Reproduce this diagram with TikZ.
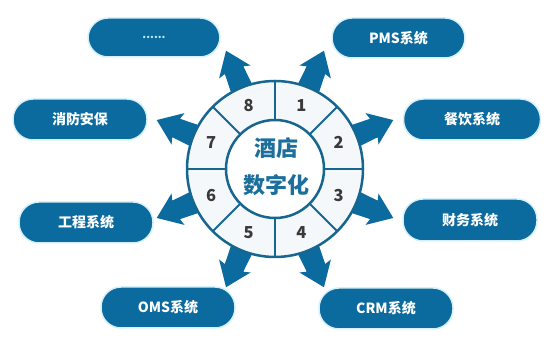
\documentclass[tikz,border=0pt]{standalone}
\usepackage{fontspec}
\newfontfamily\cjk{Noto Sans CJK SC}
\definecolor{boxblue}{HTML}{0B6A9E}
\definecolor{ringblue}{HTML}{16668F}
\definecolor{fillw}{HTML}{F5F8FA}
\definecolor{txtblue}{HTML}{1C6F9C}
\definecolor{numgray}{HTML}{3A3A3A}
\definecolor{glow}{HTML}{D6F0FA}
\definecolor{dotcol}{HTML}{BFEFFF}
\begin{document}
\begin{tikzpicture}[x=1pt,y=1pt,
  sysbox/.style={rectangle, rounded corners=20pt, minimum width=134pt, minimum height=41pt,
    fill=boxblue, draw=glow, line width=1.5pt, text=white, inner sep=0pt,
    font=\cjk\bfseries\fontsize{14}{14}\selectfont},
  ringline/.style={draw=ringblue, line width=2.5pt},
  divline/.style={draw=ringblue, line width=2pt},
  numtxt/.style={text=numgray, font=\cjk\bfseries\fontsize{16.5}{16.5}\selectfont},
  centxt/.style={text=txtblue, font=\cjk\bfseries\fontsize{22}{22}\selectfont},
  arrowshape/.style={fill=boxblue}]
\useasboundingbox (0,0) rectangle (552,347);
\fill[white] (0,0) rectangle (552,347);
\coordinate (c) at (275,178);
% boxes
\node[sysbox, minimum width=132pt, minimum height=39pt] (bdots) at (154,309.5) {\textcolor{dotcol}{\fontsize{11}{11}\selectfont......}};
\node[sysbox, minimum width=133pt, minimum height=40pt] (bpms) at (398.5,309) {PMS系统};
\node[sysbox] (bxf) at (80,227.5) {消防安保};
\node[sysbox, minimum width=137pt] (bcy) at (472,227.5) {餐饮系统};
\node[sysbox] (bgc) at (86,124.5) {工程系统};
\node[sysbox, minimum height=42pt] (bcw) at (470,127) {财务系统};
\node[sysbox] (boms) at (168,39.5) {OMS系统};
\node[sysbox] (bcrm) at (386,38.5) {CRM系统};
% arrows
\foreach \a in {22.5,67.5,...,337.5} {
  \begin{scope}[shift={(c)}, rotate=\a]
    \path[arrowshape] (78,-12) -- (107,-10) -- (105,-17) -- (128,0) -- (105,17) -- (107,10) -- (78,12) -- cycle;
  \end{scope}
}
% wheel
\path[ringline, fill=fillw] (c) circle (88);
\foreach \a in {0,45,...,315} {
  \path[divline] ([shift={(\a:49)}]c) -- ([shift={(\a:88)}]c);
}
\path[ringline, fill=white] (c) circle (49);
% numbers
\foreach \n/\a in {1/67.5,2/22.5,3/-22.5,4/-67.5,5/-112.5,6/-157.5,7/157.5,8/112.5} {
  \node[numtxt] (n\n) at ([shift={(\a:69)}]c) {\n};
}
\node[centxt] (t1) at (276,199) {酒店};
\node[centxt] (t2) at (276,162) {数字化};
\end{tikzpicture}
\end{document}
